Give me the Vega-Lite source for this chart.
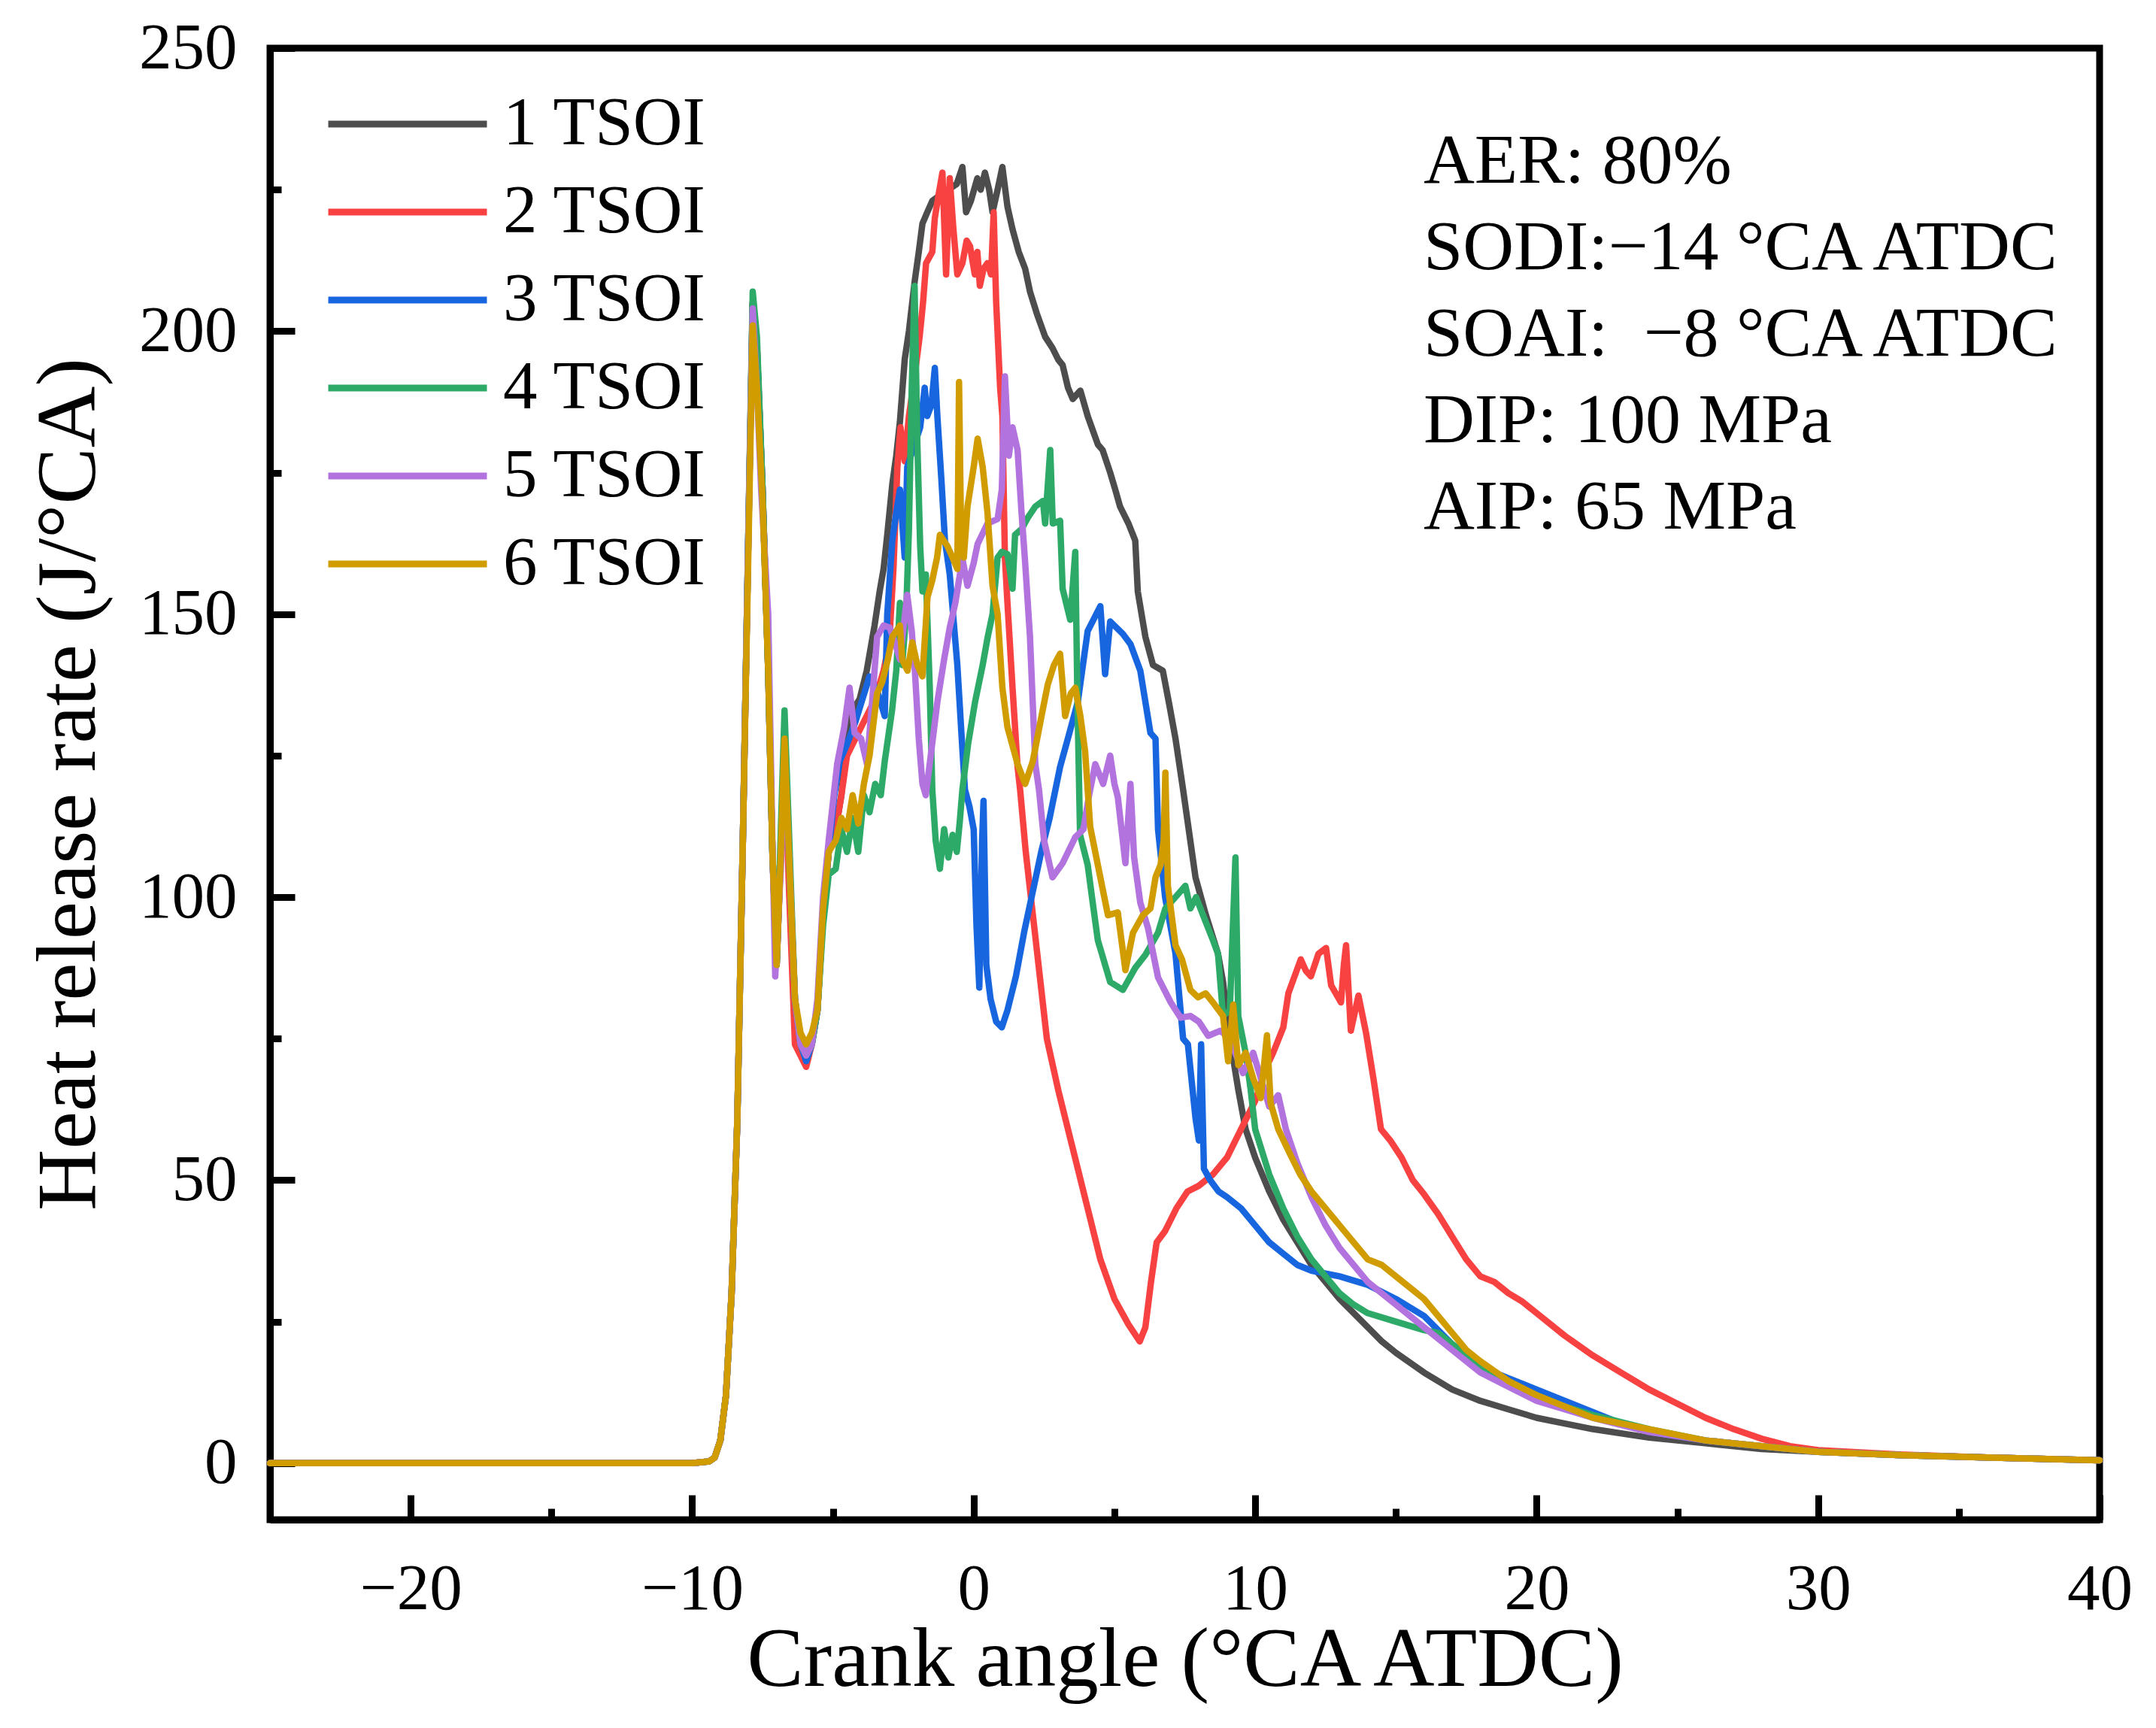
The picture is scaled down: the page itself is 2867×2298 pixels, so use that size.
{
"$schema": "https://vega.github.io/schema/vega-lite/v6.json",
"autosize": {"type": "none"},
"padding": {"left": 359, "top": 64, "right": 75, "bottom": 277},
"width": 2433,
"height": 1957,
"background": "white",
"config": {
  "font": "Liberation Serif",
  "view": {"stroke": "black", "strokeWidth": 9},
  "axis": {"domainColor": "black", "domainWidth": 9, "tickColor": "black", "tickWidth": 9, "labelColor": "black", "titleColor": "black", "labelFont": "Liberation Serif", "titleFont": "Liberation Serif", "titleFontWeight": "normal", "grid": false},
  "legend": {"labelFont": "Liberation Serif"}
},
"layer": [
{
  "data": {"values": [
{"s":"1 TSOI","x":-25,"y":0},{"s":"1 TSOI","x":-15,"y":0},{"s":"1 TSOI","x":-10,"y":0},{"s":"1 TSOI","x":-9.4,"y":0.3},{"s":"1 TSOI","x":-9.2,"y":1},{"s":"1 TSOI","x":-9.0,"y":4},{"s":"1 TSOI","x":-8.8,"y":12},{"s":"1 TSOI","x":-8.6,"y":30},{"s":"1 TSOI","x":-8.4,"y":60},{"s":"1 TSOI","x":-8.2,"y":110},{"s":"1 TSOI","x":-8.0,"y":165},{"s":"1 TSOI","x":-7.85,"y":205},{"s":"1 TSOI","x":-7.7,"y":197},{"s":"1 TSOI","x":-7.5,"y":172},{"s":"1 TSOI","x":-7.3,"y":140},{"s":"1 TSOI","x":-7.15,"y":108},{"s":"1 TSOI","x":-7.0,"y":88},{"s":"1 TSOI","x":-6.85,"y":108},{"s":"1 TSOI","x":-6.72,"y":126},{"s":"1 TSOI","x":-6.55,"y":106},{"s":"1 TSOI","x":-6.35,"y":82},{"s":"1 TSOI","x":-6.15,"y":74},{"s":"1 TSOI","x":-5.95,"y":71},{"s":"1 TSOI","x":-5.75,"y":74},{"s":"1 TSOI","x":-5.55,"y":80},{"s":"1 TSOI","x":-5.35,"y":97},{"s":"1 TSOI","x":-5.15,"y":108},{"s":"1 TSOI","x":-4.9,"y":112},{"s":"1 TSOI","x":-4.7,"y":118},
{"s":"1 TSOI","x":-4.5,"y":128},{"s":"1 TSOI","x":-4.3,"y":133},{"s":"1 TSOI","x":-4.05,"y":135},{"s":"1 TSOI","x":-3.8,"y":140},{"s":"1 TSOI","x":-3.52,"y":148},{"s":"1 TSOI","x":-3.34,"y":154},{"s":"1 TSOI","x":-3.2,"y":158},{"s":"1 TSOI","x":-3.07,"y":164},{"s":"1 TSOI","x":-2.89,"y":173},{"s":"1 TSOI","x":-2.75,"y":178},{"s":"1 TSOI","x":-2.62,"y":184},{"s":"1 TSOI","x":-2.45,"y":195},{"s":"1 TSOI","x":-2.3,"y":200},{"s":"1 TSOI","x":-2.09,"y":209},{"s":"1 TSOI","x":-1.95,"y":214},{"s":"1 TSOI","x":-1.82,"y":219},{"s":"1 TSOI","x":-1.65,"y":221},{"s":"1 TSOI","x":-1.47,"y":223},{"s":"1 TSOI","x":-1.2,"y":224},{"s":"1 TSOI","x":-0.9,"y":225},{"s":"1 TSOI","x":-0.6,"y":226},{"s":"1 TSOI","x":-0.4,"y":229},{"s":"1 TSOI","x":-0.27,"y":221},{"s":"1 TSOI","x":-0.1,"y":223},{"s":"1 TSOI","x":0.13,"y":227},{"s":"1 TSOI","x":0.25,"y":225},{"s":"1 TSOI","x":0.4,"y":228},{"s":"1 TSOI","x":0.55,"y":225},{"s":"1 TSOI","x":0.67,"y":221},{"s":"1 TSOI","x":0.85,"y":225},{"s":"1 TSOI","x":1.02,"y":229},{"s":"1 TSOI","x":1.2,"y":222},{"s":"1 TSOI","x":1.38,"y":218},{"s":"1 TSOI","x":1.6,"y":214},{"s":"1 TSOI","x":1.83,"y":211},{"s":"1 TSOI","x":2.0,"y":207},{"s":"1 TSOI","x":2.25,"y":203},{"s":"1 TSOI","x":2.54,"y":199},{"s":"1 TSOI","x":2.8,"y":197},{"s":"1 TSOI","x":3.0,"y":195},{"s":"1 TSOI","x":3.16,"y":194},{"s":"1 TSOI","x":3.35,"y":190},{"s":"1 TSOI","x":3.52,"y":188},{"s":"1 TSOI","x":3.79,"y":189.5},{"s":"1 TSOI","x":4.05,"y":185},{"s":"1 TSOI","x":4.41,"y":180},{"s":"1 TSOI","x":4.58,"y":179},{"s":"1 TSOI","x":4.85,"y":175},{"s":"1 TSOI","x":5.03,"y":172},{"s":"1 TSOI","x":5.2,"y":169},{"s":"1 TSOI","x":5.5,"y":166},{"s":"1 TSOI","x":5.74,"y":163},{"s":"1 TSOI","x":5.83,"y":154},{"s":"1 TSOI","x":6.1,"y":146},{"s":"1 TSOI","x":6.37,"y":141},{"s":"1 TSOI","x":6.72,"y":140},{"s":"1 TSOI","x":6.95,"y":134},{"s":"1 TSOI","x":7.17,"y":128},{"s":"1 TSOI","x":7.44,"y":119},{"s":"1 TSOI","x":7.61,"y":113},{"s":"1 TSOI","x":7.88,"y":103.5},{"s":"1 TSOI","x":8.24,"y":97},{"s":"1 TSOI","x":8.68,"y":90},{"s":"1 TSOI","x":8.86,"y":85},{"s":"1 TSOI","x":9.04,"y":77},{"s":"1 TSOI","x":9.4,"y":66},{"s":"1 TSOI","x":9.66,"y":59},{"s":"1 TSOI","x":10.0,"y":54},{"s":"1 TSOI","x":10.5,"y":48},{"s":"1 TSOI","x":11,"y":43},{"s":"1 TSOI","x":11.5,"y":39},{"s":"1 TSOI","x":12,"y":35},{"s":"1 TSOI","x":12.5,"y":32},{"s":"1 TSOI","x":13,"y":29},{"s":"1 TSOI","x":13.5,"y":26.5},{"s":"1 TSOI","x":14,"y":24},{"s":"1 TSOI","x":14.5,"y":21.5},{"s":"1 TSOI","x":15,"y":19.5},{"s":"1 TSOI","x":16,"y":16},{"s":"1 TSOI","x":17,"y":13},{"s":"1 TSOI","x":18,"y":11},{"s":"1 TSOI","x":19,"y":9.5},{"s":"1 TSOI","x":20,"y":8},{"s":"1 TSOI","x":21,"y":7},{"s":"1 TSOI","x":22,"y":6},{"s":"1 TSOI","x":24,"y":4.5},{"s":"1 TSOI","x":26,"y":3.5},{"s":"1 TSOI","x":28,"y":2.5},{"s":"1 TSOI","x":30,"y":2},{"s":"1 TSOI","x":33,"y":1.4},{"s":"1 TSOI","x":36,"y":1},{"s":"1 TSOI","x":40,"y":0.5},

{"s":"2 TSOI","x":-25,"y":0},{"s":"2 TSOI","x":-15,"y":0},{"s":"2 TSOI","x":-10,"y":0},{"s":"2 TSOI","x":-9.4,"y":0.3},{"s":"2 TSOI","x":-9.2,"y":1},{"s":"2 TSOI","x":-9.0,"y":4},{"s":"2 TSOI","x":-8.8,"y":12},{"s":"2 TSOI","x":-8.6,"y":30},{"s":"2 TSOI","x":-8.4,"y":60},{"s":"2 TSOI","x":-8.2,"y":110},{"s":"2 TSOI","x":-8.0,"y":165},{"s":"2 TSOI","x":-7.85,"y":205},{"s":"2 TSOI","x":-7.7,"y":197},{"s":"2 TSOI","x":-7.5,"y":172},{"s":"2 TSOI","x":-7.3,"y":140},{"s":"2 TSOI","x":-7.15,"y":108},{"s":"2 TSOI","x":-7.0,"y":88},{"s":"2 TSOI","x":-6.85,"y":108},{"s":"2 TSOI","x":-6.72,"y":125},{"s":"2 TSOI","x":-6.55,"y":100},{"s":"2 TSOI","x":-6.35,"y":74},{"s":"2 TSOI","x":-6.15,"y":72},{"s":"2 TSOI","x":-5.95,"y":70},{"s":"2 TSOI","x":-5.75,"y":74},{"s":"2 TSOI","x":-5.55,"y":80},{"s":"2 TSOI","x":-5.35,"y":97},{"s":"2 TSOI","x":-5.15,"y":108},{"s":"2 TSOI","x":-4.9,"y":112},{"s":"2 TSOI","x":-4.7,"y":118},
{"s":"2 TSOI","x":-4.5,"y":125},{"s":"2 TSOI","x":-4.0,"y":130},{"s":"2 TSOI","x":-3.5,"y":135},{"s":"2 TSOI","x":-3.2,"y":140},{"s":"2 TSOI","x":-3.0,"y":145},{"s":"2 TSOI","x":-2.85,"y":158},{"s":"2 TSOI","x":-2.71,"y":176},{"s":"2 TSOI","x":-2.6,"y":183},{"s":"2 TSOI","x":-2.45,"y":177},{"s":"2 TSOI","x":-2.3,"y":185},{"s":"2 TSOI","x":-2.1,"y":192},{"s":"2 TSOI","x":-1.92,"y":199},{"s":"2 TSOI","x":-1.8,"y":205},{"s":"2 TSOI","x":-1.69,"y":212},{"s":"2 TSOI","x":-1.47,"y":214},{"s":"2 TSOI","x":-1.38,"y":220},{"s":"2 TSOI","x":-1.25,"y":224},{"s":"2 TSOI","x":-1.11,"y":228},{"s":"2 TSOI","x":-0.98,"y":210},{"s":"2 TSOI","x":-0.85,"y":227},{"s":"2 TSOI","x":-0.72,"y":218},{"s":"2 TSOI","x":-0.58,"y":210},{"s":"2 TSOI","x":-0.4,"y":212},{"s":"2 TSOI","x":-0.25,"y":216},{"s":"2 TSOI","x":-0.13,"y":215},{"s":"2 TSOI","x":0.04,"y":210},{"s":"2 TSOI","x":0.13,"y":214},{"s":"2 TSOI","x":0.22,"y":208},{"s":"2 TSOI","x":0.35,"y":211},{"s":"2 TSOI","x":0.49,"y":212},{"s":"2 TSOI","x":0.62,"y":210},{"s":"2 TSOI","x":0.71,"y":221},{"s":"2 TSOI","x":0.8,"y":205},{"s":"2 TSOI","x":0.94,"y":190},{"s":"2 TSOI","x":1.02,"y":185},{"s":"2 TSOI","x":1.11,"y":160},{"s":"2 TSOI","x":1.2,"y":152},{"s":"2 TSOI","x":1.38,"y":137},{"s":"2 TSOI","x":1.56,"y":123},{"s":"2 TSOI","x":1.65,"y":119},{"s":"2 TSOI","x":1.85,"y":108},{"s":"2 TSOI","x":2.1,"y":97},{"s":"2 TSOI","x":2.35,"y":86},{"s":"2 TSOI","x":2.6,"y":75},{"s":"2 TSOI","x":3.0,"y":66},{"s":"2 TSOI","x":3.5,"y":56},{"s":"2 TSOI","x":4.0,"y":46},{"s":"2 TSOI","x":4.5,"y":36},{"s":"2 TSOI","x":5.0,"y":29},{"s":"2 TSOI","x":5.5,"y":24.5},{"s":"2 TSOI","x":5.9,"y":21.5},{"s":"2 TSOI","x":6.1,"y":24},{"s":"2 TSOI","x":6.3,"y":32},{"s":"2 TSOI","x":6.5,"y":39},{"s":"2 TSOI","x":6.8,"y":41},{"s":"2 TSOI","x":7.2,"y":45},{"s":"2 TSOI","x":7.6,"y":48},{"s":"2 TSOI","x":8.0,"y":49},{"s":"2 TSOI","x":8.5,"y":51},{"s":"2 TSOI","x":9.0,"y":54},{"s":"2 TSOI","x":9.5,"y":59},{"s":"2 TSOI","x":10.0,"y":64},{"s":"2 TSOI","x":10.4,"y":70},{"s":"2 TSOI","x":10.64,"y":72.5},{"s":"2 TSOI","x":11.0,"y":77},{"s":"2 TSOI","x":11.18,"y":83},{"s":"2 TSOI","x":11.4,"y":86},{"s":"2 TSOI","x":11.62,"y":89},{"s":"2 TSOI","x":11.8,"y":87},{"s":"2 TSOI","x":11.98,"y":86},{"s":"2 TSOI","x":12.25,"y":90},{"s":"2 TSOI","x":12.52,"y":91},{"s":"2 TSOI","x":12.7,"y":84.4},{"s":"2 TSOI","x":13.05,"y":81.4},{"s":"2 TSOI","x":13.15,"y":88},{"s":"2 TSOI","x":13.23,"y":91.5},{"s":"2 TSOI","x":13.4,"y":76.4},{"s":"2 TSOI","x":13.67,"y":82.6},{"s":"2 TSOI","x":13.94,"y":76},{"s":"2 TSOI","x":14.2,"y":68},{"s":"2 TSOI","x":14.47,"y":59},{"s":"2 TSOI","x":14.8,"y":57},{"s":"2 TSOI","x":15.2,"y":54},{"s":"2 TSOI","x":15.6,"y":50},{"s":"2 TSOI","x":16,"y":47.5},{"s":"2 TSOI","x":16.5,"y":44},{"s":"2 TSOI","x":17,"y":40},{"s":"2 TSOI","x":17.5,"y":36},{"s":"2 TSOI","x":18,"y":33},{"s":"2 TSOI","x":18.5,"y":32},{"s":"2 TSOI","x":19,"y":30},{"s":"2 TSOI","x":19.5,"y":28.5},{"s":"2 TSOI","x":20,"y":26.5},{"s":"2 TSOI","x":21,"y":22.5},{"s":"2 TSOI","x":22,"y":19},{"s":"2 TSOI","x":23,"y":16},{"s":"2 TSOI","x":24,"y":13},{"s":"2 TSOI","x":25,"y":10.5},{"s":"2 TSOI","x":26,"y":8},{"s":"2 TSOI","x":27,"y":6},{"s":"2 TSOI","x":28,"y":4.3},{"s":"2 TSOI","x":29,"y":3},{"s":"2 TSOI","x":30,"y":2.3},{"s":"2 TSOI","x":33,"y":1.5},{"s":"2 TSOI","x":36,"y":1},{"s":"2 TSOI","x":40,"y":0.5},

{"s":"3 TSOI","x":-25,"y":0},{"s":"3 TSOI","x":-15,"y":0},{"s":"3 TSOI","x":-10,"y":0},{"s":"3 TSOI","x":-9.4,"y":0.3},{"s":"3 TSOI","x":-9.2,"y":1},{"s":"3 TSOI","x":-9.0,"y":4},{"s":"3 TSOI","x":-8.8,"y":12},{"s":"3 TSOI","x":-8.6,"y":30},{"s":"3 TSOI","x":-8.4,"y":60},{"s":"3 TSOI","x":-8.2,"y":110},{"s":"3 TSOI","x":-8.0,"y":165},{"s":"3 TSOI","x":-7.85,"y":205},{"s":"3 TSOI","x":-7.7,"y":197},{"s":"3 TSOI","x":-7.5,"y":172},{"s":"3 TSOI","x":-7.3,"y":140},{"s":"3 TSOI","x":-7.15,"y":108},{"s":"3 TSOI","x":-7.0,"y":88},{"s":"3 TSOI","x":-6.85,"y":108},{"s":"3 TSOI","x":-6.72,"y":126},{"s":"3 TSOI","x":-6.55,"y":106},{"s":"3 TSOI","x":-6.35,"y":82},{"s":"3 TSOI","x":-6.15,"y":74},{"s":"3 TSOI","x":-5.95,"y":71},{"s":"3 TSOI","x":-5.75,"y":74},{"s":"3 TSOI","x":-5.55,"y":80},{"s":"3 TSOI","x":-5.35,"y":97},{"s":"3 TSOI","x":-5.15,"y":108},{"s":"3 TSOI","x":-4.95,"y":118},
{"s":"3 TSOI","x":-4.76,"y":124},{"s":"3 TSOI","x":-4.5,"y":127},{"s":"3 TSOI","x":-4.2,"y":131},{"s":"3 TSOI","x":-3.95,"y":135},{"s":"3 TSOI","x":-3.7,"y":139},{"s":"3 TSOI","x":-3.4,"y":136},{"s":"3 TSOI","x":-3.16,"y":132},{"s":"3 TSOI","x":-3.07,"y":150},{"s":"3 TSOI","x":-2.89,"y":163},{"s":"3 TSOI","x":-2.75,"y":168},{"s":"3 TSOI","x":-2.62,"y":172},{"s":"3 TSOI","x":-2.45,"y":160},{"s":"3 TSOI","x":-2.36,"y":176},{"s":"3 TSOI","x":-2.1,"y":180},{"s":"3 TSOI","x":-1.9,"y":183},{"s":"3 TSOI","x":-1.74,"y":190},{"s":"3 TSOI","x":-1.65,"y":185},{"s":"3 TSOI","x":-1.5,"y":187},{"s":"3 TSOI","x":-1.38,"y":193.5},{"s":"3 TSOI","x":-1.29,"y":185},{"s":"3 TSOI","x":-1.15,"y":174},{"s":"3 TSOI","x":-1.02,"y":163},{"s":"3 TSOI","x":-0.85,"y":157},{"s":"3 TSOI","x":-0.58,"y":141},{"s":"3 TSOI","x":-0.4,"y":126},{"s":"3 TSOI","x":-0.31,"y":119},{"s":"3 TSOI","x":-0.15,"y":116},{"s":"3 TSOI","x":0.0,"y":112},{"s":"3 TSOI","x":0.1,"y":95},{"s":"3 TSOI","x":0.2,"y":84},{"s":"3 TSOI","x":0.3,"y":110},{"s":"3 TSOI","x":0.35,"y":117},{"s":"3 TSOI","x":0.45,"y":88},{"s":"3 TSOI","x":0.6,"y":82},{"s":"3 TSOI","x":0.8,"y":78},{"s":"3 TSOI","x":1.0,"y":77},{"s":"3 TSOI","x":1.2,"y":80},{"s":"3 TSOI","x":1.5,"y":86},{"s":"3 TSOI","x":1.8,"y":94},{"s":"3 TSOI","x":2.1,"y":101},{"s":"3 TSOI","x":2.4,"y":108},{"s":"3 TSOI","x":2.7,"y":114},{"s":"3 TSOI","x":3.07,"y":123},{"s":"3 TSOI","x":3.4,"y":129},{"s":"3 TSOI","x":3.7,"y":134.5},{"s":"3 TSOI","x":4.05,"y":147},{"s":"3 TSOI","x":4.5,"y":151.4},{"s":"3 TSOI","x":4.67,"y":139.4},{"s":"3 TSOI","x":4.85,"y":148.7},{"s":"3 TSOI","x":5.3,"y":146.5},{"s":"3 TSOI","x":5.57,"y":144.7},{"s":"3 TSOI","x":5.92,"y":140},{"s":"3 TSOI","x":6.28,"y":129},{"s":"3 TSOI","x":6.46,"y":128},{"s":"3 TSOI","x":6.55,"y":112},{"s":"3 TSOI","x":6.8,"y":100},{"s":"3 TSOI","x":7.17,"y":90},{"s":"3 TSOI","x":7.44,"y":75},{"s":"3 TSOI","x":7.61,"y":74},{"s":"3 TSOI","x":7.88,"y":61},{"s":"3 TSOI","x":8.0,"y":57},{"s":"3 TSOI","x":8.08,"y":74},{"s":"3 TSOI","x":8.18,"y":52},{"s":"3 TSOI","x":8.4,"y":50},{"s":"3 TSOI","x":8.7,"y":48},{"s":"3 TSOI","x":9.0,"y":47},{"s":"3 TSOI","x":9.5,"y":45},{"s":"3 TSOI","x":10,"y":42},{"s":"3 TSOI","x":10.5,"y":39},{"s":"3 TSOI","x":11,"y":37},{"s":"3 TSOI","x":11.5,"y":35},{"s":"3 TSOI","x":12,"y":34},{"s":"3 TSOI","x":13,"y":33},{"s":"3 TSOI","x":14,"y":31.5},{"s":"3 TSOI","x":15,"y":29},{"s":"3 TSOI","x":16,"y":26},{"s":"3 TSOI","x":17,"y":21},{"s":"3 TSOI","x":18,"y":17},{"s":"3 TSOI","x":19,"y":15},{"s":"3 TSOI","x":20,"y":13},{"s":"3 TSOI","x":21,"y":11},{"s":"3 TSOI","x":22,"y":9},{"s":"3 TSOI","x":23,"y":7},{"s":"3 TSOI","x":24,"y":5.5},{"s":"3 TSOI","x":26,"y":4},{"s":"3 TSOI","x":28,"y":3},{"s":"3 TSOI","x":30,"y":2},{"s":"3 TSOI","x":33,"y":1.4},{"s":"3 TSOI","x":36,"y":1},{"s":"3 TSOI","x":40,"y":0.5},

{"s":"4 TSOI","x":-25,"y":0},{"s":"4 TSOI","x":-15,"y":0},{"s":"4 TSOI","x":-10,"y":0},{"s":"4 TSOI","x":-9.4,"y":0.3},{"s":"4 TSOI","x":-9.2,"y":1},{"s":"4 TSOI","x":-9.0,"y":4},{"s":"4 TSOI","x":-8.8,"y":12},{"s":"4 TSOI","x":-8.6,"y":30},{"s":"4 TSOI","x":-8.4,"y":60},{"s":"4 TSOI","x":-8.2,"y":110},{"s":"4 TSOI","x":-8.0,"y":166},{"s":"4 TSOI","x":-7.85,"y":207},{"s":"4 TSOI","x":-7.7,"y":199},{"s":"4 TSOI","x":-7.5,"y":172},{"s":"4 TSOI","x":-7.3,"y":140},{"s":"4 TSOI","x":-7.15,"y":108},{"s":"4 TSOI","x":-7.0,"y":88},{"s":"4 TSOI","x":-6.85,"y":112},{"s":"4 TSOI","x":-6.72,"y":133},{"s":"4 TSOI","x":-6.55,"y":110},{"s":"4 TSOI","x":-6.35,"y":82},{"s":"4 TSOI","x":-6.15,"y":74},{"s":"4 TSOI","x":-5.95,"y":72},{"s":"4 TSOI","x":-5.75,"y":74},{"s":"4 TSOI","x":-5.55,"y":80},{"s":"4 TSOI","x":-5.35,"y":95},{"s":"4 TSOI","x":-5.15,"y":104},{"s":"4 TSOI","x":-4.9,"y":105},{"s":"4 TSOI","x":-4.7,"y":112},
{"s":"4 TSOI","x":-4.5,"y":108},{"s":"4 TSOI","x":-4.3,"y":114},{"s":"4 TSOI","x":-4.1,"y":108},{"s":"4 TSOI","x":-3.9,"y":118},{"s":"4 TSOI","x":-3.7,"y":115},{"s":"4 TSOI","x":-3.5,"y":120},{"s":"4 TSOI","x":-3.3,"y":118},{"s":"4 TSOI","x":-3.16,"y":124},{"s":"4 TSOI","x":-2.9,"y":133},{"s":"4 TSOI","x":-2.75,"y":140},{"s":"4 TSOI","x":-2.62,"y":152},{"s":"4 TSOI","x":-2.54,"y":141},{"s":"4 TSOI","x":-2.4,"y":150},{"s":"4 TSOI","x":-2.3,"y":165},{"s":"4 TSOI","x":-2.2,"y":190},{"s":"4 TSOI","x":-2.1,"y":208},{"s":"4 TSOI","x":-2.0,"y":180},{"s":"4 TSOI","x":-1.9,"y":162},{"s":"4 TSOI","x":-1.82,"y":154},{"s":"4 TSOI","x":-1.7,"y":157},{"s":"4 TSOI","x":-1.56,"y":137},{"s":"4 TSOI","x":-1.47,"y":119},{"s":"4 TSOI","x":-1.35,"y":110},{"s":"4 TSOI","x":-1.2,"y":105},{"s":"4 TSOI","x":-1.05,"y":112},{"s":"4 TSOI","x":-0.9,"y":107},{"s":"4 TSOI","x":-0.75,"y":111},{"s":"4 TSOI","x":-0.6,"y":108},{"s":"4 TSOI","x":-0.5,"y":113},{"s":"4 TSOI","x":-0.4,"y":119},{"s":"4 TSOI","x":-0.2,"y":127},{"s":"4 TSOI","x":0.05,"y":134.5},{"s":"4 TSOI","x":0.32,"y":141},{"s":"4 TSOI","x":0.5,"y":146},{"s":"4 TSOI","x":0.67,"y":150},{"s":"4 TSOI","x":0.85,"y":160},{"s":"4 TSOI","x":1.0,"y":161},{"s":"4 TSOI","x":1.2,"y":160.6},{"s":"4 TSOI","x":1.38,"y":154.5},{"s":"4 TSOI","x":1.47,"y":164},{"s":"4 TSOI","x":1.7,"y":165},{"s":"4 TSOI","x":1.92,"y":167},{"s":"4 TSOI","x":2.19,"y":169},{"s":"4 TSOI","x":2.46,"y":170},{"s":"4 TSOI","x":2.54,"y":166},{"s":"4 TSOI","x":2.72,"y":179},{"s":"4 TSOI","x":2.81,"y":166},{"s":"4 TSOI","x":3.07,"y":166.5},{"s":"4 TSOI","x":3.16,"y":154.5},{"s":"4 TSOI","x":3.43,"y":149},{"s":"4 TSOI","x":3.61,"y":161},{"s":"4 TSOI","x":3.68,"y":137},{"s":"4 TSOI","x":3.72,"y":126},{"s":"4 TSOI","x":3.78,"y":111},{"s":"4 TSOI","x":4.05,"y":105.7},{"s":"4 TSOI","x":4.23,"y":99},{"s":"4 TSOI","x":4.41,"y":92.4},{"s":"4 TSOI","x":4.85,"y":85},{"s":"4 TSOI","x":5.3,"y":83.6},{"s":"4 TSOI","x":5.74,"y":87.5},{"s":"4 TSOI","x":6.1,"y":89.8},{"s":"4 TSOI","x":6.55,"y":93.7},{"s":"4 TSOI","x":6.81,"y":98},{"s":"4 TSOI","x":7.17,"y":100},{"s":"4 TSOI","x":7.52,"y":102},{"s":"4 TSOI","x":7.7,"y":98},{"s":"4 TSOI","x":7.9,"y":100},{"s":"4 TSOI","x":8.15,"y":96.8},{"s":"4 TSOI","x":8.5,"y":92.4},{"s":"4 TSOI","x":8.68,"y":90},{"s":"4 TSOI","x":8.86,"y":79},{"s":"4 TSOI","x":9.1,"y":80},{"s":"4 TSOI","x":9.3,"y":107},{"s":"4 TSOI","x":9.4,"y":79},{"s":"4 TSOI","x":9.66,"y":72.5},{"s":"4 TSOI","x":9.84,"y":66},{"s":"4 TSOI","x":10.0,"y":59},{"s":"4 TSOI","x":10.5,"y":51},{"s":"4 TSOI","x":11,"y":45},{"s":"4 TSOI","x":11.5,"y":40},{"s":"4 TSOI","x":12,"y":36},{"s":"4 TSOI","x":12.5,"y":33},{"s":"4 TSOI","x":13,"y":30},{"s":"4 TSOI","x":13.5,"y":28},{"s":"4 TSOI","x":14,"y":26.5},{"s":"4 TSOI","x":15,"y":25},{"s":"4 TSOI","x":16,"y":23.5},{"s":"4 TSOI","x":16.5,"y":23},{"s":"4 TSOI","x":17,"y":21},{"s":"4 TSOI","x":17.5,"y":19},{"s":"4 TSOI","x":18,"y":17},{"s":"4 TSOI","x":19,"y":14},{"s":"4 TSOI","x":20,"y":12},{"s":"4 TSOI","x":21,"y":10},{"s":"4 TSOI","x":22,"y":8.5},{"s":"4 TSOI","x":24,"y":6},{"s":"4 TSOI","x":26,"y":4},{"s":"4 TSOI","x":28,"y":3},{"s":"4 TSOI","x":30,"y":2},{"s":"4 TSOI","x":33,"y":1.4},{"s":"4 TSOI","x":36,"y":1},{"s":"4 TSOI","x":40,"y":0.5},

{"s":"5 TSOI","x":-25,"y":0},{"s":"5 TSOI","x":-15,"y":0},{"s":"5 TSOI","x":-10,"y":0},{"s":"5 TSOI","x":-9.4,"y":0.3},{"s":"5 TSOI","x":-9.2,"y":1},{"s":"5 TSOI","x":-9.0,"y":4},{"s":"5 TSOI","x":-8.8,"y":12},{"s":"5 TSOI","x":-8.6,"y":30},{"s":"5 TSOI","x":-8.4,"y":60},{"s":"5 TSOI","x":-8.2,"y":110},{"s":"5 TSOI","x":-8.0,"y":165},{"s":"5 TSOI","x":-7.85,"y":204},{"s":"5 TSOI","x":-7.7,"y":190},{"s":"5 TSOI","x":-7.55,"y":172},{"s":"5 TSOI","x":-7.3,"y":150},{"s":"5 TSOI","x":-7.15,"y":110},{"s":"5 TSOI","x":-7.05,"y":86},{"s":"5 TSOI","x":-6.85,"y":105},{"s":"5 TSOI","x":-6.72,"y":125},{"s":"5 TSOI","x":-6.55,"y":106},{"s":"5 TSOI","x":-6.35,"y":82},{"s":"5 TSOI","x":-6.15,"y":74},{"s":"5 TSOI","x":-5.95,"y":72},{"s":"5 TSOI","x":-5.75,"y":74},{"s":"5 TSOI","x":-5.55,"y":82},{"s":"5 TSOI","x":-5.35,"y":100},{"s":"5 TSOI","x":-5.15,"y":110},
{"s":"5 TSOI","x":-4.85,"y":123.5},{"s":"5 TSOI","x":-4.6,"y":130},{"s":"5 TSOI","x":-4.41,"y":137},{"s":"5 TSOI","x":-4.23,"y":129},{"s":"5 TSOI","x":-4.0,"y":128},{"s":"5 TSOI","x":-3.79,"y":123.5},{"s":"5 TSOI","x":-3.6,"y":135},{"s":"5 TSOI","x":-3.43,"y":146},{"s":"5 TSOI","x":-3.2,"y":148},{"s":"5 TSOI","x":-2.98,"y":147.6},{"s":"5 TSOI","x":-2.8,"y":145},{"s":"5 TSOI","x":-2.62,"y":142},{"s":"5 TSOI","x":-2.36,"y":153.4},{"s":"5 TSOI","x":-2.2,"y":147},{"s":"5 TSOI","x":-2.1,"y":141},{"s":"5 TSOI","x":-1.95,"y":128},{"s":"5 TSOI","x":-1.82,"y":120},{"s":"5 TSOI","x":-1.7,"y":118},{"s":"5 TSOI","x":-1.5,"y":126},{"s":"5 TSOI","x":-1.29,"y":134.5},{"s":"5 TSOI","x":-1.05,"y":142},{"s":"5 TSOI","x":-0.85,"y":147.6},{"s":"5 TSOI","x":-0.65,"y":152},{"s":"5 TSOI","x":-0.4,"y":159.8},{"s":"5 TSOI","x":-0.22,"y":155},{"s":"5 TSOI","x":0.0,"y":159},{"s":"5 TSOI","x":0.14,"y":162.4},{"s":"5 TSOI","x":0.49,"y":166},{"s":"5 TSOI","x":0.85,"y":166.8},{"s":"5 TSOI","x":1.0,"y":172},{"s":"5 TSOI","x":1.11,"y":192},{"s":"5 TSOI","x":1.25,"y":178},{"s":"5 TSOI","x":1.38,"y":183},{"s":"5 TSOI","x":1.56,"y":179},{"s":"5 TSOI","x":1.7,"y":168},{"s":"5 TSOI","x":1.83,"y":159},{"s":"5 TSOI","x":2.0,"y":146},{"s":"5 TSOI","x":2.19,"y":123.5},{"s":"5 TSOI","x":2.32,"y":119},{"s":"5 TSOI","x":2.5,"y":110},{"s":"5 TSOI","x":2.8,"y":103.5},{"s":"5 TSOI","x":3.16,"y":106},{"s":"5 TSOI","x":3.61,"y":110.6},{"s":"5 TSOI","x":3.9,"y":112},{"s":"5 TSOI","x":4.1,"y":118},{"s":"5 TSOI","x":4.32,"y":123.5},{"s":"5 TSOI","x":4.6,"y":120},{"s":"5 TSOI","x":4.85,"y":125},{"s":"5 TSOI","x":5.0,"y":120},{"s":"5 TSOI","x":5.12,"y":117.7},{"s":"5 TSOI","x":5.39,"y":106},{"s":"5 TSOI","x":5.57,"y":120},{"s":"5 TSOI","x":5.7,"y":107},{"s":"5 TSOI","x":5.92,"y":99},{"s":"5 TSOI","x":6.19,"y":94.6},{"s":"5 TSOI","x":6.55,"y":85.8},{"s":"5 TSOI","x":7.0,"y":81.4},{"s":"5 TSOI","x":7.35,"y":78.7},{"s":"5 TSOI","x":7.7,"y":79},{"s":"5 TSOI","x":8.0,"y":78},{"s":"5 TSOI","x":8.33,"y":75.5},{"s":"5 TSOI","x":8.77,"y":76.4},{"s":"5 TSOI","x":9.1,"y":75},{"s":"5 TSOI","x":9.57,"y":68.9},{"s":"5 TSOI","x":9.93,"y":72.5},{"s":"5 TSOI","x":10.2,"y":68},{"s":"5 TSOI","x":10.5,"y":63},{"s":"5 TSOI","x":10.82,"y":65},{"s":"5 TSOI","x":11.09,"y":59},{"s":"5 TSOI","x":11.5,"y":53},{"s":"5 TSOI","x":12,"y":47},{"s":"5 TSOI","x":12.5,"y":42},{"s":"5 TSOI","x":13,"y":38},{"s":"5 TSOI","x":13.5,"y":35},{"s":"5 TSOI","x":14,"y":32},{"s":"5 TSOI","x":15,"y":28},{"s":"5 TSOI","x":16,"y":24},{"s":"5 TSOI","x":17,"y":20},{"s":"5 TSOI","x":18,"y":16},{"s":"5 TSOI","x":19,"y":13.5},{"s":"5 TSOI","x":20,"y":11},{"s":"5 TSOI","x":22,"y":8},{"s":"5 TSOI","x":24,"y":5.5},{"s":"5 TSOI","x":26,"y":4},{"s":"5 TSOI","x":28,"y":3},{"s":"5 TSOI","x":30,"y":2},{"s":"5 TSOI","x":33,"y":1.4},{"s":"5 TSOI","x":36,"y":1},{"s":"5 TSOI","x":40,"y":0.5},

{"s":"6 TSOI","x":-25,"y":0},{"s":"6 TSOI","x":-15,"y":0},{"s":"6 TSOI","x":-10,"y":0},{"s":"6 TSOI","x":-9.4,"y":0.3},{"s":"6 TSOI","x":-9.2,"y":1},{"s":"6 TSOI","x":-9.0,"y":4},{"s":"6 TSOI","x":-8.8,"y":12},{"s":"6 TSOI","x":-8.6,"y":30},{"s":"6 TSOI","x":-8.4,"y":60},{"s":"6 TSOI","x":-8.2,"y":110},{"s":"6 TSOI","x":-8.0,"y":162},{"s":"6 TSOI","x":-7.85,"y":201},{"s":"6 TSOI","x":-7.7,"y":190},{"s":"6 TSOI","x":-7.5,"y":170},{"s":"6 TSOI","x":-7.3,"y":140},{"s":"6 TSOI","x":-7.15,"y":108},{"s":"6 TSOI","x":-7.0,"y":88},{"s":"6 TSOI","x":-6.85,"y":108},{"s":"6 TSOI","x":-6.72,"y":128},{"s":"6 TSOI","x":-6.55,"y":106},{"s":"6 TSOI","x":-6.35,"y":82},{"s":"6 TSOI","x":-6.15,"y":76},{"s":"6 TSOI","x":-5.95,"y":74},{"s":"6 TSOI","x":-5.75,"y":76},{"s":"6 TSOI","x":-5.55,"y":80},{"s":"6 TSOI","x":-5.35,"y":98},{"s":"6 TSOI","x":-5.15,"y":108},{"s":"6 TSOI","x":-4.9,"y":110},{"s":"6 TSOI","x":-4.7,"y":114},
{"s":"6 TSOI","x":-4.5,"y":112},{"s":"6 TSOI","x":-4.3,"y":118},{"s":"6 TSOI","x":-4.1,"y":113},{"s":"6 TSOI","x":-3.9,"y":120},{"s":"6 TSOI","x":-3.7,"y":125},{"s":"6 TSOI","x":-3.43,"y":136},{"s":"6 TSOI","x":-3.25,"y":138},{"s":"6 TSOI","x":-3.05,"y":142},{"s":"6 TSOI","x":-2.89,"y":146},{"s":"6 TSOI","x":-2.62,"y":148},{"s":"6 TSOI","x":-2.54,"y":142},{"s":"6 TSOI","x":-2.35,"y":140},{"s":"6 TSOI","x":-2.18,"y":145},{"s":"6 TSOI","x":-2.0,"y":141},{"s":"6 TSOI","x":-1.82,"y":139},{"s":"6 TSOI","x":-1.64,"y":153},{"s":"6 TSOI","x":-1.47,"y":156},{"s":"6 TSOI","x":-1.3,"y":160},{"s":"6 TSOI","x":-1.2,"y":164},{"s":"6 TSOI","x":-0.93,"y":162},{"s":"6 TSOI","x":-0.75,"y":160},{"s":"6 TSOI","x":-0.58,"y":158},{"s":"6 TSOI","x":-0.52,"y":191},{"s":"6 TSOI","x":-0.45,"y":165},{"s":"6 TSOI","x":-0.35,"y":160},{"s":"6 TSOI","x":-0.22,"y":169},{"s":"6 TSOI","x":0.0,"y":176},{"s":"6 TSOI","x":0.14,"y":181},{"s":"6 TSOI","x":0.32,"y":176},{"s":"6 TSOI","x":0.49,"y":168},{"s":"6 TSOI","x":0.67,"y":155},{"s":"6 TSOI","x":0.85,"y":150},{"s":"6 TSOI","x":1.02,"y":137},{"s":"6 TSOI","x":1.2,"y":130},{"s":"6 TSOI","x":1.56,"y":123.5},{"s":"6 TSOI","x":1.83,"y":120},{"s":"6 TSOI","x":2.1,"y":124},{"s":"6 TSOI","x":2.45,"y":133},{"s":"6 TSOI","x":2.63,"y":137.5},{"s":"6 TSOI","x":2.85,"y":141},{"s":"6 TSOI","x":3.07,"y":143},{"s":"6 TSOI","x":3.25,"y":132},{"s":"6 TSOI","x":3.45,"y":136},{"s":"6 TSOI","x":3.61,"y":137},{"s":"6 TSOI","x":3.79,"y":132},{"s":"6 TSOI","x":3.96,"y":125.7},{"s":"6 TSOI","x":4.14,"y":112.4},{"s":"6 TSOI","x":4.41,"y":105.7},{"s":"6 TSOI","x":4.77,"y":96.8},{"s":"6 TSOI","x":5.12,"y":97.3},{"s":"6 TSOI","x":5.39,"y":87.1},{"s":"6 TSOI","x":5.66,"y":93.7},{"s":"6 TSOI","x":6.01,"y":96.8},{"s":"6 TSOI","x":6.28,"y":98},{"s":"6 TSOI","x":6.46,"y":103.5},{"s":"6 TSOI","x":6.64,"y":105.7},{"s":"6 TSOI","x":6.75,"y":110},{"s":"6 TSOI","x":6.81,"y":122},{"s":"6 TSOI","x":6.9,"y":102},{"s":"6 TSOI","x":7.17,"y":91.5},{"s":"6 TSOI","x":7.4,"y":89},{"s":"6 TSOI","x":7.7,"y":83.6},{"s":"6 TSOI","x":7.97,"y":82.3},{"s":"6 TSOI","x":8.24,"y":83},{"s":"6 TSOI","x":8.5,"y":81.4},{"s":"6 TSOI","x":8.86,"y":79},{"s":"6 TSOI","x":9.04,"y":71},{"s":"6 TSOI","x":9.22,"y":81},{"s":"6 TSOI","x":9.4,"y":70.3},{"s":"6 TSOI","x":9.66,"y":72.5},{"s":"6 TSOI","x":9.93,"y":68},{"s":"6 TSOI","x":10.2,"y":64.5},{"s":"6 TSOI","x":10.42,"y":75.6},{"s":"6 TSOI","x":10.55,"y":63.6},{"s":"6 TSOI","x":10.82,"y":59},{"s":"6 TSOI","x":11.2,"y":55},{"s":"6 TSOI","x":11.6,"y":51},{"s":"6 TSOI","x":12,"y":48},{"s":"6 TSOI","x":12.5,"y":45},{"s":"6 TSOI","x":13,"y":42},{"s":"6 TSOI","x":13.5,"y":39},{"s":"6 TSOI","x":14,"y":36},{"s":"6 TSOI","x":14.5,"y":35},{"s":"6 TSOI","x":15,"y":33},{"s":"6 TSOI","x":15.5,"y":31},{"s":"6 TSOI","x":16,"y":29},{"s":"6 TSOI","x":16.5,"y":26},{"s":"6 TSOI","x":17,"y":23},{"s":"6 TSOI","x":17.5,"y":20},{"s":"6 TSOI","x":18,"y":18},{"s":"6 TSOI","x":19,"y":14.5},{"s":"6 TSOI","x":20,"y":12},{"s":"6 TSOI","x":22,"y":8},{"s":"6 TSOI","x":24,"y":6},{"s":"6 TSOI","x":26,"y":4},{"s":"6 TSOI","x":28,"y":3},{"s":"6 TSOI","x":30,"y":2},{"s":"6 TSOI","x":33,"y":1.4},{"s":"6 TSOI","x":36,"y":1},{"s":"6 TSOI","x":40,"y":0.5}
  ]},
  "mark": {"type": "line", "strokeWidth": 8.5, "strokeJoin": "round", "strokeCap": "round"},
  "encoding": {
    "x": {"field": "x", "type": "quantitative", "scale": {"domain": [-25, 40], "nice": false, "zero": false},
      "axis": {"orient": "bottom", "values": [-20, -10, 0, 10, 20, 30, 40], "tickSize": -33, "labelPadding": 151, "labelBaseline": "alphabetic", "labelFontSize": 87, "labelFlush": false, "title": "Crank angle (°CA ATDC)", "titleFontSize": 113, "titleY": 220, "titleBaseline": "alphabetic"}},
    "y": {"field": "y", "type": "quantitative", "scale": {"domain": [-10, 250], "nice": false, "zero": false},
      "axis": {"orient": "left", "values": [0, 50, 100, 150, 200, 250], "tickSize": -33, "labelPadding": 77, "labelFontSize": 87, "labelFlush": false, "title": "Heat release rate (J/°CA)", "titleFontSize": 113, "titleX": -234, "titleBaseline": "alphabetic"}},
    "color": {"field": "s", "type": "nominal", "title": null,
      "scale": {"domain": ["1 TSOI", "2 TSOI", "3 TSOI", "4 TSOI", "5 TSOI", "6 TSOI"], "range": ["#4d4d4d", "#f84242", "#1866df", "#2daa67", "#b273de", "#d09c00"]},
      "legend": {"orient": "none", "legendX": 73, "legendY": 56, "padding": 0, "symbolType": "stroke", "symbolSize": 44521, "symbolStrokeWidth": 9, "clipHeight": 90, "rowPadding": 26, "labelOffset": 17, "labelFontSize": 91, "labelColor": "black", "labelBaseline": "middle", "labelLimit": 0}}
  }
},
{
  "data": {"values": [{}]},
  "mark": {"type": "text", "align": "left", "baseline": "alphabetic", "fontSize": 94, "lineHeight": 115, "font": "Liberation Serif", "color": "black"},
  "encoding": {
    "x": {"datum": 15.98, "type": "quantitative", "axis": {"orient": "bottom", "values": [-15, -5, 5, 15, 25, 35], "tickSize": -15, "labels": false, "domain": false, "title": null}},
    "y": {"datum": 226.2, "type": "quantitative", "axis": {"orient": "left", "values": [25, 75, 125, 175, 225], "tickSize": -15, "labels": false, "domain": false, "title": null}},
    "text": {"value": ["AER: 80%", "SODI:−14 °CA ATDC", "SOAI:\u00a0 −8 °CA ATDC", "DIP: 100 MPa", "AIP: 65 MPa"]}
  }
}
],
"resolve": {"axis": {"x": "independent", "y": "independent"}}
}
